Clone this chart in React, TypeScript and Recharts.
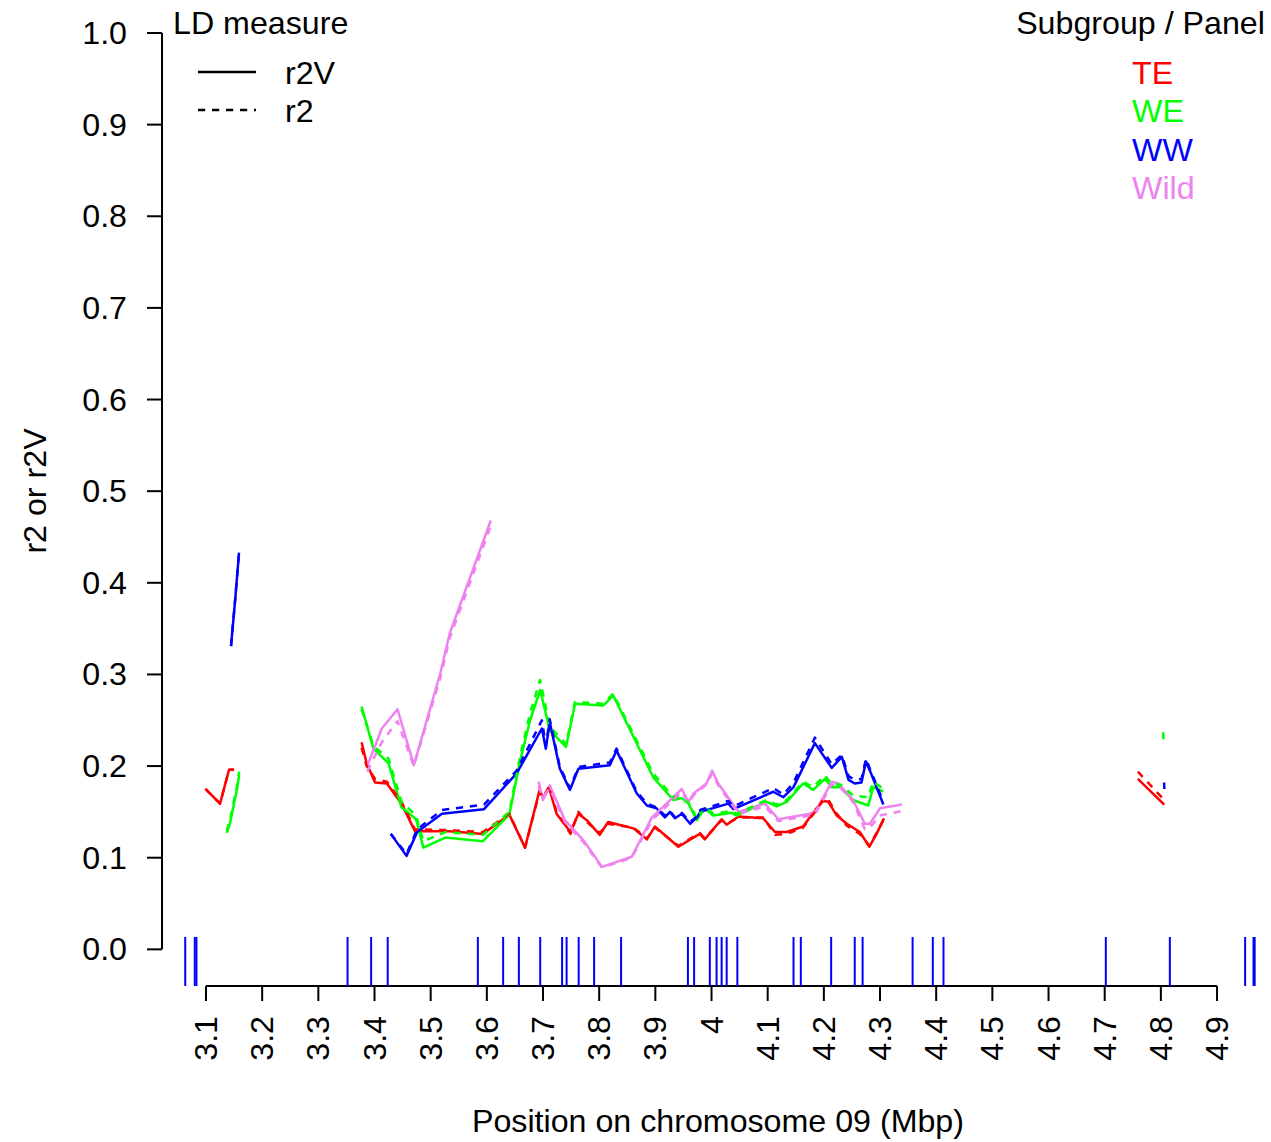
import React from "react";
import { LineChart, Line, XAxis, YAxis, ReferenceLine } from "recharts";

const FONT = "'Liberation Sans', Arial, Helvetica, sans-serif";
const FS = 32.2;
const DASH = "7.2 6.8";

const xTicks = [3.1, 3.2, 3.3, 3.4, 3.5, 3.6, 3.7, 3.8, 3.9, 4.0, 4.1, 4.2, 4.3, 4.4, 4.5, 4.6, 4.7, 4.8, 4.9];
const xTickLabels = ["3.1", "3.2", "3.3", "3.4", "3.5", "3.6", "3.7", "3.8", "3.9", "4", "4.1", "4.2", "4.3", "4.4", "4.5", "4.6", "4.7", "4.8", "4.9"];
const yTicks = [0, 0.1, 0.2, 0.3, 0.4, 0.5, 0.6, 0.7, 0.8, 0.9, 1.0];
const yTickLabels = ["0.0", "0.1", "0.2", "0.3", "0.4", "0.5", "0.6", "0.7", "0.8", "0.9", "1.0"];

const groups = ["TE", "WE", "WW", "Wild"];
const groupColors = ["#FF0000", "#00FF00", "#0000FF", "#EE82EE"];

// marker positions (Mbp) drawn as a rug
const rugPos = [3.063, 3.080, 3.083, 3.352, 3.394, 3.4235, 3.584, 3.629, 3.657, 3.695, 3.734, 3.742, 3.7635, 3.791, 3.839,
  3.958, 3.969, 3.997, 4.009, 4.018, 4.027, 4.046, 4.146, 4.159, 4.213, 4.255, 4.269, 4.358, 4.394, 4.413,
  4.702, 4.816, 4.950, 4.965, 4.967];

// null = gap in the curve
const teX = [3.099, 3.125, 3.141, 3.150, 3.26, 3.377, 3.386, 3.401, 3.422, 3.448, 3.472, 3.534, 3.593, 3.640, 3.668,
  3.694, 3.700, 3.711, 3.724, 3.749, 3.763, 3.778, 3.801, 3.816, 3.861, 3.885, 3.899, 3.941, 3.979, 3.988,
  4.018, 4.027, 4.048, 4.092, 4.113, 4.134, 4.163, 4.187, 4.199, 4.208, 4.223, 4.241, 4.264, 4.281, 4.294,
  4.307, 4.55, 4.759, 4.806];
const teR2V = [0.175, 0.159, 0.196, 0.196, null, 0.226, 0.203, 0.182, 0.181, 0.159, 0.129, 0.129, 0.126, 0.147, 0.111,
  0.174, 0.165, 0.176, 0.148, 0.128, 0.148, 0.141, 0.125, 0.139, 0.132, 0.120, 0.134, 0.112, 0.126, 0.120,
  0.142, 0.136, 0.145, 0.143, 0.128, 0.128, 0.134, 0.154, 0.162, 0.161, 0.146, 0.137, 0.128, 0.112, 0.126,
  0.143, null, 0.186, 0.158];
const teR2 = [0.175, 0.159, 0.196, 0.196, null, 0.220, 0.200, 0.186, 0.183, 0.161, 0.131, 0.130, 0.128, 0.148, 0.111,
  0.172, 0.166, 0.178, 0.150, 0.126, 0.150, 0.139, 0.127, 0.137, 0.133, 0.121, 0.133, 0.113, 0.127, 0.121,
  0.141, 0.137, 0.144, 0.144, 0.125, 0.126, 0.133, 0.152, 0.164, 0.163, 0.148, 0.135, 0.126, 0.113, 0.127,
  0.142, null, 0.194, 0.163];

const weX = [3.137, 3.142, 3.147, 3.151, 3.155, 3.159, 3.26, 3.377, 3.398, 3.425, 3.448, 3.474, 3.487, 3.526, 3.593,
  3.640, 3.659, 3.677, 3.695, 3.712, 3.741, 3.757, 3.807, 3.825, 3.861, 3.896, 3.932, 3.947, 3.959, 3.974,
  3.988, 4.003, 4.036, 4.045, 4.098, 4.116, 4.134, 4.163, 4.181, 4.202, 4.214, 4.229, 4.252, 4.279, 4.288,
  4.306, 4.55, 4.8043, 4.8046];
const weR2V = [0.127, 0.136, 0.150, 0.163, 0.174, 0.190, null, 0.265, 0.219, 0.203, 0.155, 0.142, 0.111, 0.122, 0.118,
  0.147, 0.205, 0.250, 0.283, 0.239, 0.221, 0.268, 0.266, 0.277, 0.232, 0.188, 0.163, 0.165, 0.159, 0.141,
  0.154, 0.146, 0.149, 0.146, 0.161, 0.156, 0.161, 0.181, 0.174, 0.186, 0.177, 0.177, 0.163, 0.157, 0.177,
  0.172, null, null, null];
const weR2 = [0.129, 0.140, 0.153, 0.166, 0.178, 0.194, null, 0.262, 0.222, 0.208, 0.161, 0.146, 0.118, 0.128, 0.125,
  0.150, 0.210, 0.258, 0.294, 0.243, 0.224, 0.270, 0.268, 0.279, 0.235, 0.192, 0.166, 0.167, 0.160, 0.143,
  0.156, 0.148, 0.151, 0.148, 0.163, 0.158, 0.163, 0.183, 0.177, 0.190, 0.180, 0.180, 0.168, 0.166, 0.183,
  0.175, null, 0.237, 0.227];

const wwX = [3.1445, 3.152, 3.1588, 3.29, 3.429, 3.457, 3.476, 3.520, 3.595, 3.653, 3.698, 3.705, 3.712, 3.730, 3.748,
  3.763, 3.819, 3.831, 3.867, 3.885, 3.902, 3.917, 3.926, 3.935, 3.947, 3.962, 3.974, 3.980, 4.030, 4.039,
  4.110, 4.128, 4.146, 4.184, 4.214, 4.232, 4.244, 4.255, 4.267, 4.275, 4.282, 4.306, 4.55, 4.8058, 4.8062];
const wwR2V = [0.331, 0.382, 0.433, null, 0.126, 0.102, 0.128, 0.148, 0.153, 0.192, 0.241, 0.219, 0.248, 0.197, 0.174,
  0.197, 0.201, 0.217, 0.170, 0.157, 0.154, 0.144, 0.150, 0.143, 0.148, 0.137, 0.144, 0.150, 0.159, 0.153,
  0.172, 0.166, 0.177, 0.225, 0.198, 0.210, 0.185, 0.181, 0.182, 0.205, 0.195, 0.158, null, null, null];
const wwR2 = [0.331, 0.382, 0.433, null, 0.126, 0.104, 0.131, 0.152, 0.158, 0.195, 0.250, 0.222, 0.251, 0.199, 0.176,
  0.199, 0.204, 0.219, 0.172, 0.159, 0.155, 0.146, 0.151, 0.144, 0.149, 0.139, 0.145, 0.152, 0.162, 0.156,
  0.176, 0.169, 0.182, 0.231, 0.202, 0.212, 0.189, 0.185, 0.186, 0.208, 0.197, 0.161, null, 0.182, 0.175];

const wiX = [3.387, 3.413, 3.441, 3.470, 3.517, 3.534, 3.607, 3.65, 3.692, 3.700, 3.712, 3.739, 3.772, 3.805, 3.858,
  3.894, 3.947, 3.959, 3.968, 3.991, 4.001, 4.012, 4.048, 4.095, 4.119, 4.175, 4.187, 4.214, 4.226, 4.252,
  4.273, 4.282, 4.300, 4.339];
const wiR2V = [0.200, 0.241, 0.262, 0.201, 0.301, 0.345, 0.468, null, 0.183, 0.163, 0.179, 0.141, 0.119, 0.090, 0.101,
  0.144, 0.175, 0.161, 0.170, 0.181, 0.195, 0.181, 0.150, 0.159, 0.142, 0.148, 0.152, 0.183, 0.181, 0.163,
  0.137, 0.137, 0.154, 0.158];
const wiR2 = [0.194, 0.226, 0.249, 0.200, 0.296, 0.340, 0.462, null, 0.178, 0.166, 0.176, 0.139, 0.117, 0.089, 0.100,
  0.141, 0.172, 0.160, 0.168, 0.180, 0.192, 0.179, 0.148, 0.156, 0.140, 0.146, 0.150, 0.180, 0.179, 0.161,
  0.131, 0.133, 0.146, 0.151];

const pts = (xs: number[], ys: (number | null)[]) => xs.map((x, i) => ({ x, y: ys[i] }));

const series = [
  { xs: teX, r2v: teR2V, r2: teR2 },
  { xs: weX, r2v: weR2V, r2: weR2 },
  { xs: wwX, r2v: wwR2V, r2: wwR2 },
  { xs: wiX, r2v: wiR2V, r2: wiR2 },
];

const X_MIN = 3.02166;
const X_MAX = 4.99609;
const Y_MIN = -0.04;
const Y_MAX = 1.036;

const XTick = (props: any) => {
  const { x, y, payload } = props;
  const i = xTicks.indexOf(payload.value);
  return (
    <text x={x} y={y} transform={`rotate(-90 ${x} ${y})`} textAnchor="end" dominantBaseline="central"
      fontSize={FS} fontFamily={FONT} fill="#000">
      {xTickLabels[i]}
    </text>
  );
};

const YTick = (props: any) => {
  const { x, y, payload } = props;
  const i = yTicks.indexOf(payload.value);
  return (
    <text x={x} y={y} textAnchor="end" dominantBaseline="central" fontSize={FS} fontFamily={FONT} fill="#000">
      {yTickLabels[i]}
    </text>
  );
};

export default function App() {
  return (
    <div style={{ position: "absolute", left: 0, top: 0, width: 1271, height: 1142, background: "#fff" }}>
      <LineChart width={1271} height={1142} margin={{ top: 0, right: 0, bottom: 0, left: 0 }}>
        <XAxis dataKey="x" type="number" domain={[X_MIN, X_MAX]} ticks={xTicks} interval={0} allowDataOverflow
          height={156} axisLine={false} tickSize={15} tickMargin={15}
          tickLine={{ stroke: "#000", strokeWidth: 2 }} tick={<XTick />} />
        <YAxis type="number" domain={[Y_MIN, Y_MAX]} ticks={yTicks} interval={0} allowDataOverflow
          width={162} axisLine={false} tickSize={15} tickMargin={20}
          tickLine={{ stroke: "#000", strokeWidth: 2 }} tick={<YTick />} />
        <ReferenceLine segment={[{ x: X_MIN, y: 0 }, { x: X_MIN, y: 1 }]} stroke="#000" strokeWidth={2} ifOverflow="visible" />
        <ReferenceLine segment={[{ x: 3.1, y: Y_MIN }, { x: 4.9, y: Y_MIN }]} stroke="#000" strokeWidth={2} ifOverflow="visible" />
        {rugPos.map((p, i) => (
          <ReferenceLine key={"rug" + i} segment={[{ x: p, y: Y_MIN }, { x: p, y: 0.0135 }]}
            stroke="#0000FF" strokeWidth={2} ifOverflow="visible" />
        ))}
        {series.map((s, g) => (
          <Line key={"v" + g} data={pts(s.xs, s.r2v)} dataKey="y" type="linear" stroke={groupColors[g]}
            strokeWidth={2.5} strokeLinejoin="round" dot={false} activeDot={false} isAnimationActive={false} />
        ))}
        {series.map((s, g) => (
          <Line key={"d" + g} data={pts(s.xs, s.r2)} dataKey="y" type="linear" stroke={groupColors[g]}
            strokeWidth={2.5} strokeDasharray={DASH} strokeLinejoin="round" dot={false} activeDot={false}
            isAnimationActive={false} />
        ))}
      </LineChart>
      <svg width={1271} height={1142} style={{ position: "absolute", left: 0, top: 0, pointerEvents: "none" }}
        fontFamily={FONT} fontSize={FS}>
        <text x={173} y={23} dominantBaseline="central">LD measure</text>
        <line x1={198} x2={256} y1={72} y2={72} stroke="#000" strokeWidth={2.5} />
        <text x={285} y={73} dominantBaseline="central">r2V</text>
        <line x1={198} x2={256} y1={110} y2={110} stroke="#000" strokeWidth={2.5} strokeDasharray={DASH} />
        <text x={285} y={111} dominantBaseline="central">r2</text>
        <text x={1140.5} y={23} textAnchor="middle" dominantBaseline="central">Subgroup / Panel</text>
        {groups.map((g, i) => (
          <text key={g} x={1132} y={73 + i * 38.4} dominantBaseline="central" fill={groupColors[i]}>{g}</text>
        ))}
        <text x={35} y={491} transform="rotate(-90 35 491)" textAnchor="middle" dominantBaseline="central">r2 or r2V</text>
        <text x={718} y={1121} textAnchor="middle" dominantBaseline="central">Position on chromosome 09 (Mbp)</text>
      </svg>
    </div>
  );
}
